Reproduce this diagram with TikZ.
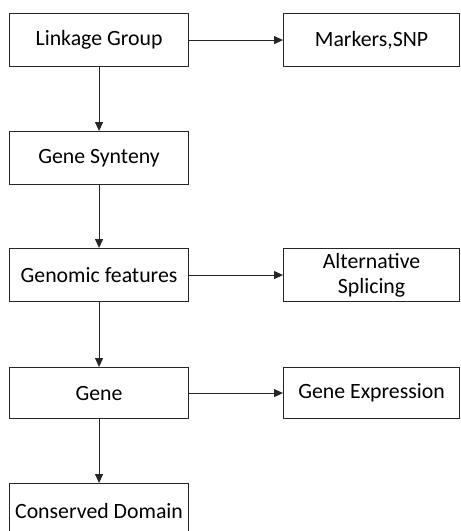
\documentclass[tikz,border=0pt]{standalone}
\usepackage{fontspec}
\setmainfont{Carlito}
\usetikzlibrary{arrows.meta}
\begin{document}
\begin{tikzpicture}[x=1pt,y=-1pt,
  box/.style={draw=black!85, line width=1.1pt, minimum width=179pt, minimum height=53pt,
    inner sep=0pt, align=center, font=\fontsize{21.8}{24.5}\selectfont, anchor=north west},
  rbox/.style={box, minimum width=176pt},
  arr/.style={-{Triangle[length=9pt,width=8pt]}, line width=1.1pt, draw=black!85}]
\useasboundingbox (0,0) rectangle (461,531);
\clip (0,0) rectangle (461,531);
\node[box] (lg) at (9,13) {Linkage Group};
\node[rbox] (ms) at (283,13) {Markers,SNP};
\node[box] (gs) at (9,131) {Gene Synteny};
\node[box] (gf) at (9,248) {Genomic features};
\node[rbox] (as) at (283,248) {Alternative\\Splicing};
\node[box, minimum height=51pt] (ge) at (9,367) {Gene};
\node[rbox, minimum height=51pt] (gx) at (283,367) {Gene Expression};
\node[box, minimum height=54pt] (cd) at (9,483) {Conserved Domain};
\draw[arr] (lg) -- (ms);
\draw[arr] (gf) -- (as);
\draw[arr] (ge) -- (gx);
\draw[arr] (lg) -- (gs);
\draw[arr] (gs) -- (gf);
\draw[arr] (gf) -- (ge);
\draw[arr] (ge) -- (cd);
\end{tikzpicture}
\end{document}
